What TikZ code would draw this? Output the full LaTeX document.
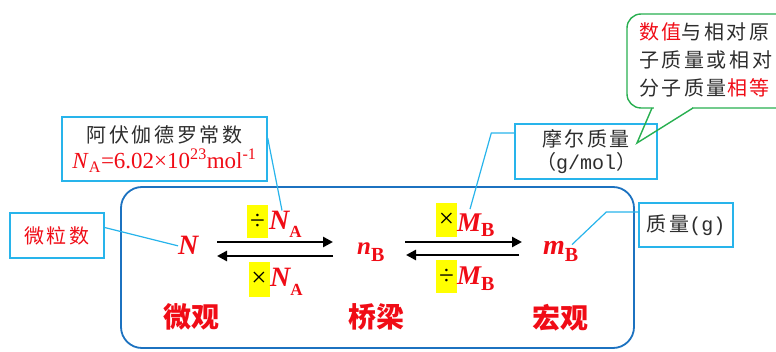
\documentclass[tikz,border=0pt]{standalone}
\usepackage{fontspec}
\setmainfont{Liberation Serif}
\newfontfamily\cjk{Noto Sans CJK SC}
\newfontfamily\cjksp[LetterSpace=13]{Noto Sans CJK SC}
\newfontfamily\mono{Liberation Mono}
\usetikzlibrary{arrows.meta}
\definecolor{txtred}{RGB}{240,12,22}
\definecolor{txtgray}{RGB}{45,45,45}
\definecolor{cyanline}{RGB}{40,180,235}
\definecolor{mainblue}{RGB}{28,114,192}
\definecolor{bubgreen}{RGB}{40,175,80}
\definecolor{hlyellow}{RGB}{255,255,0}
\newcommand\fsz[2]{\fontsize{#1}{#2}\selectfont}
% bold italic variable with upright bold subscript
\newcommand\qty[4]{{\fsz{#3}{#3}\bfseries\itshape #1}{\fsz{#4}{#4}\bfseries\raisebox{-7pt}{#2}}}
\begin{document}
\begin{tikzpicture}[x=1pt,y=-1pt,
  callbox/.style={draw=cyanline, line width=1.4pt, inner sep=0pt, text=txtgray, align=center},
  sym/.style={inner sep=0pt, text=txtred},
  hl/.style={fill=hlyellow, inner sep=0pt, minimum width=21pt, minimum height=33pt, font=\fsz{27}{27}},
  lead/.style={cyanline, line width=1.2pt},
  fwd/.style={line width=2.6pt, -{Triangle[length=10pt,width=10pt]}},
  tag/.style={text=txtred, font=\cjk\bfseries\fsz{28}{28}, inner sep=0pt}
]
\useasboundingbox (0,0) rectangle (776,352);

% frame around the conversion scheme
\draw[mainblue, line width=1.8pt, rounded corners=21pt] (121,187) rectangle (634,348);

% quantities
\node[sym, anchor=base west] (N) at (178,255) {\fsz{28}{28}\bfseries\itshape N};
\node[sym, anchor=base west] (nB) at (357,255) {\qty{n}{B}{25}{20}};
\node[sym, anchor=base west] (mB) at (543,255) {\qty{m}{B}{28}{20}};

% arrow end points
\coordinate (a1s) at (217,242); \coordinate (a1e) at (333,242);
\coordinate (a2s) at (333,256); \coordinate (a2e) at (217,256);
\coordinate (b1s) at (405,242); \coordinate (b1e) at (522,242);
\coordinate (b2s) at (519,255); \coordinate (b2e) at (406,255);
\draw[fwd] (a1s) -- (a1e);
\draw[fwd] (a2s) -- (a2e);
\draw[fwd] (b1s) -- (b1e);
\draw[fwd] (b2s) -- (b2e);

% operation labels
\node[hl] (opA1) at (257.5,221.5) {÷};
\node[sym, anchor=base west] (varA1) at (269,230) {{\fsz{28}{28}\bfseries\itshape N}{\fsz{17}{17}\bfseries\raisebox{-8pt}{A}}};
\node[hl, minimum height=35pt] (opA2) at (259,279.5) {×};
\node[sym, anchor=base west] (varA2) at (270,287) {{\fsz{28}{28}\bfseries\itshape N}{\fsz{17}{17}\bfseries\raisebox{-9pt}{A}}};
\node[hl, minimum height=34pt] (opM1) at (446.5,220) {×};
\node[sym, anchor=base west] (varM1) at (457,232) {{\fsz{27}{27}\bfseries\itshape M}{\fsz{20}{20}\bfseries\raisebox{-5pt}{B}}};
\node[hl] (opM2) at (446.5,277) {÷};
\node[sym, anchor=base west] (varM2) at (457,285) {{\fsz{27}{27}\bfseries\itshape M}{\fsz{20}{20}\bfseries\raisebox{-6pt}{B}}};

% level captions
\node[tag] (micro) at (191,317) {微观};
\node[tag] (bridge) at (376,317) {桥梁};
\node[tag] (macro) at (560,318) {宏观};

% explanation boxes
\node[callbox, minimum width=205pt, minimum height=64pt, font=\fsz{20}{26}] (avo) at (164.5,149)
  {{\cjksp 阿伏伽德罗常数}\\{\color{txtred}\fsz{23}{23}\textit{N}\textsubscript{A}=6.02×10\textsuperscript{23}mol\textsuperscript{-1}}};
\node[callbox, minimum width=94pt, minimum height=45pt, text=txtred, font=\cjksp\fsz{20}{20}] (count) at (57,235.5) {微粒数};
\node[callbox, minimum width=142pt, minimum height=55pt, font=\fsz{20}{23}] (molar) at (586,151.5)
  {{\cjksp 摩尔质量}\\{\cjk （}{\mono g/mol}{\cjk ）}};
\node[callbox, minimum width=94pt, minimum height=44pt, font=\fsz{20}{20}] (mass) at (686,225)
  {{\cjksp 质量}{\mono (g)}};

% leader lines
\draw[lead] ([yshift=11pt]avo.east) -- ([xshift=13pt,yshift=1pt]varA1.north west);
\draw[lead] ([yshift=8pt]count.east) -- (N.west);
\draw[lead] ([yshift=18.5pt]molar.west) -- ++(-23,0) -- ([xshift=13pt,yshift=5pt]varM1.north west);
\draw[lead] ([yshift=13pt]mass.west) -- ++(-32,0) -- ([xshift=29pt,yshift=-3pt]mB.north west);

% speech bubble
\draw[bubgreen, line width=1.4pt, rounded corners=14pt] (627,14) rectangle (800,108);
\fill[white] (653.5,106.5) rectangle (691.5,109.8);
\draw[bubgreen, line width=1.4pt, line join=miter] (652,108) -- (637,143) -- (693,108);
\node[anchor=west, align=left, inner sep=0pt, text=txtgray, font=\cjksp\fsz{20}{28}] (bub) at (639,60)
  {{\color{txtred}数值}与相对原\\子质量或相对\\分子质量{\color{txtred}相等}};
\end{tikzpicture}
\end{document}
